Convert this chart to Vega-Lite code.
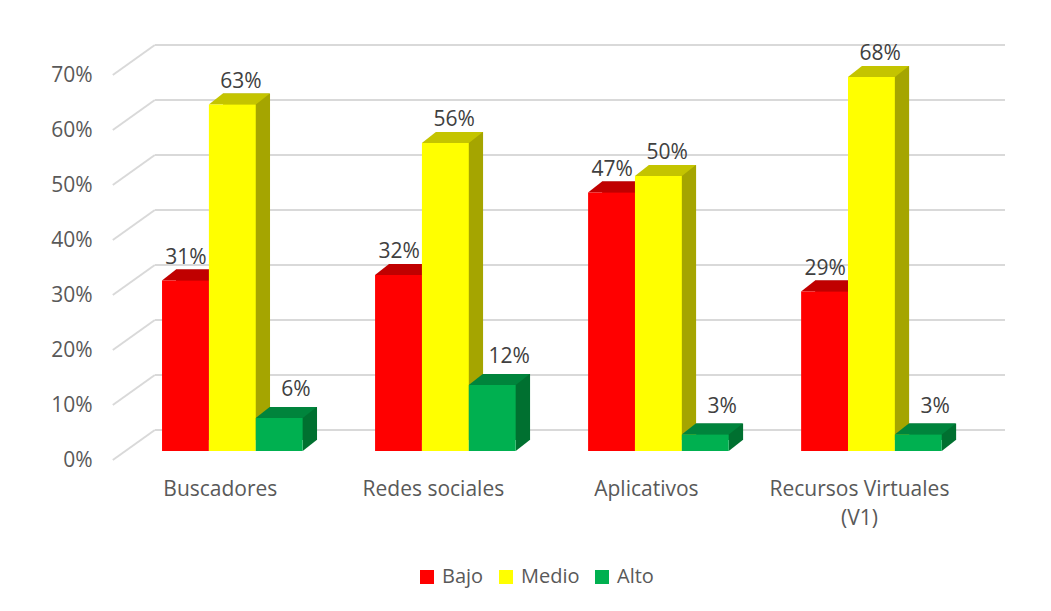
{
  "$schema": "https://vega.github.io/schema/vega-lite/v6.json",
  "autosize": {"type": "none"},
  "width": 850,
  "height": 385,
  "padding": {"left": 155, "top": 66, "right": 46, "bottom": 160},
  "background": "white",
  "config": {
    "view": {"stroke": null},
    "font": "Open Sans",
    "axis": {"labelFont": "Open Sans", "labelFontSize": 21, "labelColor": "#595959", "domain": false, "ticks": false, "grid": false, "title": null},
    "legend": {"labelFont": "Open Sans", "labelFontSize": 20, "labelColor": "#595959"}
  },
  "datasets": {
    "grid": [{"g": 0}, {"g": 0.1}, {"g": 0.2}, {"g": 0.3}, {"g": 0.4}, {"g": 0.5}, {"g": 0.6}, {"g": 0.7}],
    "bars": [
      {"cat": "Buscadores", "nivel": "Bajo", "v": 0.31},
      {"cat": "Buscadores", "nivel": "Medio", "v": 0.63},
      {"cat": "Buscadores", "nivel": "Alto", "v": 0.06},
      {"cat": "Redes sociales", "nivel": "Bajo", "v": 0.32},
      {"cat": "Redes sociales", "nivel": "Medio", "v": 0.56},
      {"cat": "Redes sociales", "nivel": "Alto", "v": 0.12},
      {"cat": "Aplicativos", "nivel": "Bajo", "v": 0.47},
      {"cat": "Aplicativos", "nivel": "Medio", "v": 0.50},
      {"cat": "Aplicativos", "nivel": "Alto", "v": 0.03},
      {"cat": "Recursos Virtuales (V1)", "nivel": "Bajo", "v": 0.29},
      {"cat": "Recursos Virtuales (V1)", "nivel": "Medio", "v": 0.68},
      {"cat": "Recursos Virtuales (V1)", "nivel": "Alto", "v": 0.03}
    ]
  },
  "encoding": {
    "x": {"field": "cat", "type": "nominal", "sort": null,
      "scale": {"paddingInner": 0.34, "paddingOuter": 0.165, "align": 0.1},
      "axis": {"labelAngle": 0, "labelPadding": 27, "labelOffset": -12, "labelLineHeight": 29,
        "labelExpr": "datum.value == 'Recursos Virtuales (V1)' ? ['Recursos Virtuales', '(V1)'] : datum.value"}}
  },
  "resolve": {"scale": {"xOffset": "independent"}},
  "layer": [
    {
      "data": {"name": "grid"},
      "mark": {"type": "rule", "color": "#d9d9d9", "strokeWidth": 2, "yOffset": -21},
      "encoding": {
        "x": null,
        "y": {"field": "g", "type": "quantitative", "scale": {"domain": [0, 0.7], "nice": false},
          "axis": {"format": ".0%", "values": [0, 0.1, 0.2, 0.3, 0.4, 0.5, 0.6, 0.7], "offset": 42, "labelPadding": 21, "labelOffset": 9}}
      }
    },
    {
      "data": {"name": "grid"},
      "mark": {"type": "point", "filled": false, "stroke": "#d9d9d9", "strokeWidth": 2, "opacity": 1, "size": 57600, "yOffset": -21,
        "shape": "M-0.996,0.25 L-0.646,0"},
      "encoding": {
        "x": {"datum": "Buscadores"},
        "y": {"field": "g", "type": "quantitative"}
      }
    },
    {
      "data": {"name": "bars"},
      "mark": {"type": "bar", "yOffset": -11, "y2Offset": -11},
      "encoding": {
        "y": {"field": "v", "type": "quantitative"},
        "xOffset": {"field": "nivel", "type": "nominal", "sort": ["Bajo", "Medio", "Alto"], "scale": {"paddingInner": 0, "paddingOuter": 0, "range": [14, 155]}},
        "fill": {"condition": [
          {"test": "datum.nivel === 'Bajo'", "value": "#a00000"},
          {"test": "datum.nivel === 'Medio'", "value": "#a5a500"}
        ], "value": "#007030"}
      }
    },
    {
      "data": {"name": "bars"},
      "encoding": {
        "y": {"field": "v", "type": "quantitative"},
        "xOffset": {"field": "nivel", "type": "nominal", "sort": ["Bajo", "Medio", "Alto"], "scale": {"paddingInner": 0, "paddingOuter": 0}}
      },
      "layer": [
        {
          "mark": {"type": "point", "filled": true, "opacity": 1, "size": 6400, "strokeWidth": 0,
            "shape": "M0.5875,0 L0.9375,-0.275 L0.5875,-0.275 Z"},
          "encoding": {
            "y": {"datum": 0},
            "fill": {"condition": [
              {"test": "datum.nivel === 'Bajo'", "value": "#a00000"},
              {"test": "datum.nivel === 'Medio'", "value": "#a5a500"}
            ], "value": "#007030"}
          }
        },
        {
          "mark": {"type": "point", "filled": true, "opacity": 1, "size": 6400, "strokeWidth": 0,
            "shape": "M-0.5875,0 L0.5875,0 L0.9375,-0.275 L-0.2375,-0.275 Z"},
          "encoding": {
            "fill": {"condition": [
              {"test": "datum.nivel === 'Bajo'", "value": "#c00000"},
              {"test": "datum.nivel === 'Medio'", "value": "#c4c400"}
            ], "value": "#00843c"}
          }
        },
        {
          "mark": {"type": "bar"},
          "encoding": {
            "color": {"field": "nivel", "type": "nominal", "sort": ["Bajo", "Medio", "Alto"],
              "scale": {"domain": ["Bajo", "Medio", "Alto"], "range": ["#ff0000", "#ffff00", "#00b050"]},
              "legend": {"title": null, "orient": "none", "direction": "horizontal", "legendX": 262, "legendY": 501,
                "symbolType": "square", "symbolSize": 196, "symbolStrokeWidth": 0, "labelOffset": 5, "columnPadding": 12}}
          }
        }
      ]
    },
    {
      "data": {"name": "bars"},
      "transform": [{"filter": "datum.nivel !== 'Alto'"}],
      "mark": {"type": "text", "dy": -17, "baseline": "alphabetic", "fontSize": 21, "color": "#404040", "font": "Open Sans"},
      "encoding": {
        "y": {"field": "v", "type": "quantitative"},
        "xOffset": {"field": "nivel", "type": "nominal", "sort": ["Bajo", "Medio", "Alto"], "scale": {"type": "point", "domain": ["Bajo", "Medio", "Alto"], "padding": 0, "range": [24, 134]}},
        "text": {"field": "v", "type": "quantitative", "format": ".0%"}
      }
    },
    {
      "data": {"name": "bars"},
      "transform": [{"filter": "datum.nivel === 'Alto'"}],
      "mark": {"type": "text", "dy": -22, "baseline": "alphabetic", "fontSize": 21, "color": "#404040", "font": "Open Sans"},
      "encoding": {
        "y": {"field": "v", "type": "quantitative"},
        "xOffset": {"field": "nivel", "type": "nominal", "sort": ["Bajo", "Medio", "Alto"], "scale": {"type": "point", "domain": ["Bajo", "Medio", "Alto"], "padding": 0, "range": [24, 134]}},
        "text": {"field": "v", "type": "quantitative", "format": ".0%"}
      }
    }
  ]
}
